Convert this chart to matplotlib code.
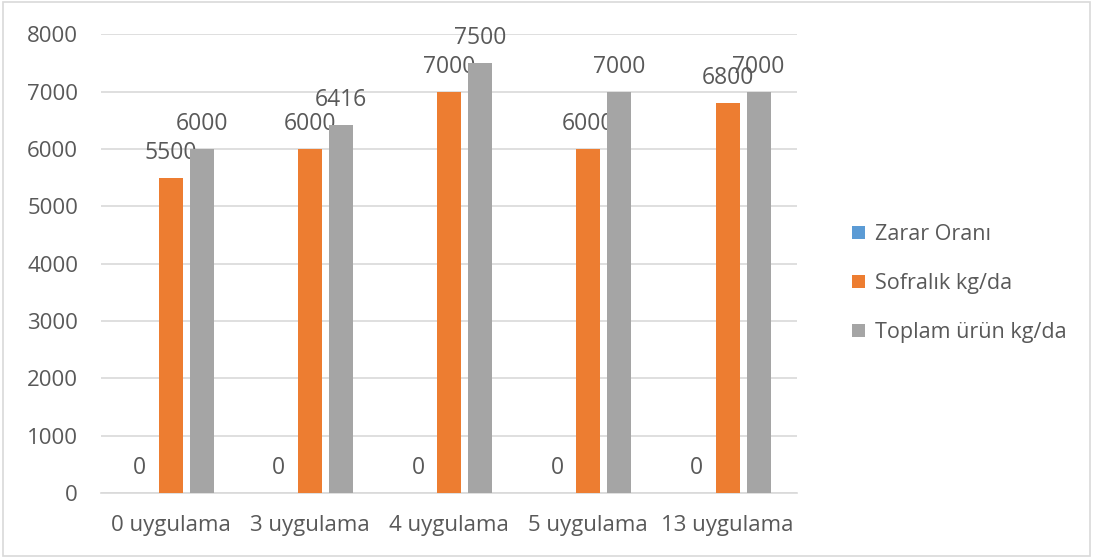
import numpy as np
import matplotlib.pyplot as plt
from matplotlib.patches import Rectangle

plt.rcParams['font.family'] = ['Open Sans', 'DejaVu Sans']

# Veriler
categories = ["0 uygulama", "3 uygulama", "4 uygulama", "5 uygulama", "13 uygulama"]
zarar = [0, 0, 0, 0, 0]
sofralik = [5500, 6000, 7000, 6000, 6800]
toplam = [6000, 6416, 7500, 7000, 7000]
series_names = ["Zarar Oranı", "Sofralık kg/da", "Toplam ürün kg/da"]
colors = ["#5B9BD5", "#ED7D31", "#A5A5A5"]
text_color = "#595959"

fig = plt.figure(figsize=(10.93, 5.58), dpi=100)
ax = fig.add_axes([0.0924, 0.1165, 0.637, 0.822])

x = np.arange(len(categories))
width = 0.172
step = 0.223

for i, (vals, name, c) in enumerate(zip([zarar, sofralik, toplam], series_names, colors)):
    pos = x + (i - 1) * step
    bars = ax.bar(pos, vals, width, color=c, label=name, zorder=3)
    for b, v in zip(bars, vals):
        ax.annotate(str(v), (b.get_x() + b.get_width() / 2, v),
                    xytext=(0, 13.5), textcoords="offset points",
                    ha="center", va="baseline", fontsize=16.5, color=text_color)

ax.set_xlim(-0.5, len(categories) - 0.5)
ax.set_ylim(0, 8000)
ax.set_yticks(range(0, 8001, 1000))
ax.set_xticks(x)
ax.set_xticklabels(categories)
ax.yaxis.grid(True, color="#D9D9D9", linewidth=1.2, zorder=0)
ax.tick_params(axis="both", length=0, labelsize=16, colors=text_color)
ax.tick_params(axis="y", pad=16.5)
ax.tick_params(axis="x", pad=16)
for s in ["top", "right", "left"]:
    ax.spines[s].set_visible(False)
ax.spines["bottom"].set_color("#D9D9D9")
ax.spines["bottom"].set_linewidth(1.2)

leg = fig.legend(loc="center left", bbox_to_anchor=(0.762, 0.492), frameon=False,
                 fontsize=15.5, handlelength=0.6, handleheight=0.6, handletextpad=0.45,
                 labelspacing=1.3)
for t in leg.get_texts():
    t.set_color(text_color)

# dış çerçeve
fig.patches.append(Rectangle((0.003, 0.004), 0.994, 0.992, transform=fig.transFigure,
                             fill=False, edgecolor="#D9D9D9", linewidth=1.2))

fig.savefig("out.png", dpi=100)
